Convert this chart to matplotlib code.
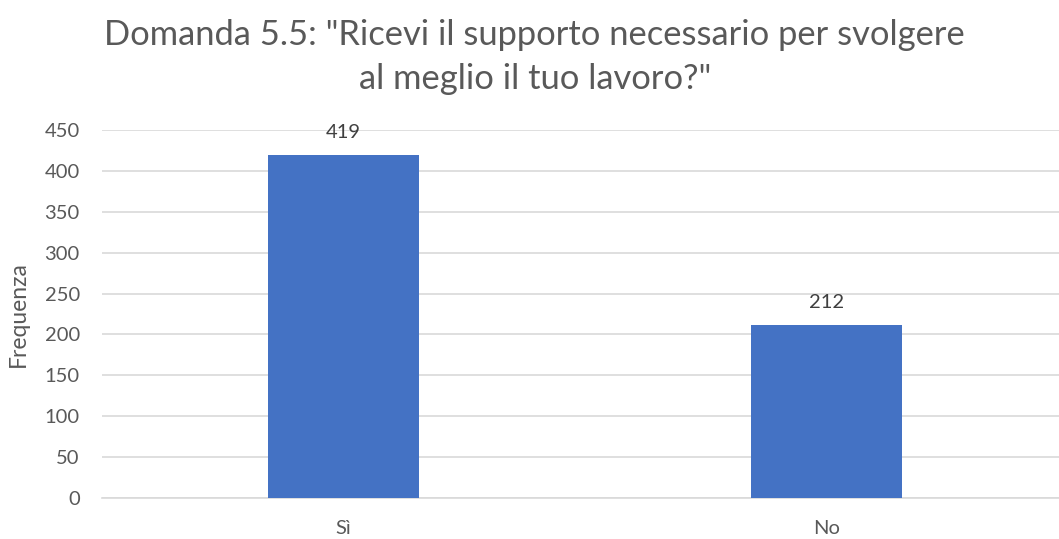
import matplotlib
matplotlib.use("Agg")
import matplotlib.pyplot as plt

categorie = ["Sì", "No"]
frequenze = [419, 212]
tick_y = [0, 50, 100, 150, 200, 250, 300, 350, 400, 450]

plt.rcParams['font.family'] = ['Lato', 'DejaVu Sans']
grigio = '#595959'

fig = plt.figure(figsize=(10.59, 5.39), dpi=100)
# l'area del grafico esce un po' a destra come nell'originale
ax = fig.add_axes([102/1059, 1 - 498/539, (1068-102)/1059, (498-130)/539])

x = range(len(categorie))
barre = ax.bar(x, frequenze, width=0.3126, color='#4472c4', zorder=3)
for b, v in zip(barre, frequenze):
    ax.annotate(str(v), (b.get_x() + b.get_width()/2, v), xytext=(0, 10),
                textcoords='offset points', ha='center', va='bottom',
                fontsize=14.5, color='#404040')

ax.set_xlim(-0.5, 1.5)
ax.set_ylim(0, 450)
ax.set_yticks(tick_y)
ax.set_xticks(list(x))
ax.set_xticklabels(categorie)
ax.grid(axis='y', color='#d9d9d9', linewidth=1.2, zorder=0)
for s in ['top', 'right', 'left']:
    ax.spines[s].set_visible(False)
ax.spines['bottom'].set_color('#d9d9d9')
ax.spines['bottom'].set_linewidth(1.2)
ax.tick_params(axis='both', length=0, labelsize=14.5, colors=grigio)
ax.tick_params(axis='y', pad=16)
ax.tick_params(axis='x', pad=16)
ax.set_ylabel("Frequenza", fontsize=16.5, color=grigio)
ax.yaxis.set_label_coords(-0.0756, 0.5)

fig.text(0.505, 0.965, 'Domanda 5.5: "Ricevi il supporto necessario per svolgere\nal meglio il tuo lavoro?"',
         ha='center', va='top', fontsize=24.8, color=grigio, linespacing=1.45)

fig.savefig("out.png", dpi=100)
